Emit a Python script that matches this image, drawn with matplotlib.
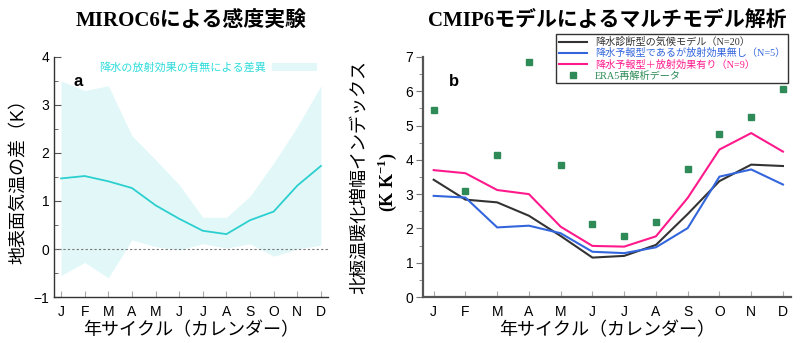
import numpy as np
import matplotlib
matplotlib.use("Agg")
import matplotlib.pyplot as plt
from matplotlib.ticker import MultipleLocator

plt.rcParams['font.family'] = ['Liberation Sans', 'Noto Sans CJK JP', 'DejaVu Sans']

months = ["J", "F", "M", "A", "M", "J", "J", "A", "S", "O", "N", "D"]

# panel a: MIROC6 sensitivity experiment
diff_mean = [1.47, 1.52, 1.41, 1.27, 0.91, 0.63, 0.38, 0.31, 0.60, 0.78, 1.32, 1.73]
diff_upper = [3.50, 3.30, 3.40, 2.36, 1.86, 1.34, 0.66, 0.66, 1.10, 1.79, 2.55, 3.40]
diff_lower = [-0.55, -0.28, -0.60, 0.19, 0.05, -0.02, 0.11, 0.02, 0.11, -0.15, 0.00, 0.08]

# panel b: CMIP6 multi-model
diag = [3.42, 2.84, 2.76, 2.37, 1.78, 1.15, 1.20, 1.52, 2.42, 3.38, 3.86, 3.82]
prog_norad = [2.95, 2.90, 2.03, 2.08, 1.86, 1.32, 1.28, 1.45, 2.01, 3.51, 3.72, 3.28]
prog_rad = [3.70, 3.61, 3.12, 3.00, 2.05, 1.49, 1.47, 1.77, 2.89, 4.30, 4.78, 4.24]
era5 = [5.44, 3.08, 4.15, 6.85, 3.84, 2.13, 1.77, 2.20, 3.74, 4.75, 5.25, 6.06]

x = np.arange(len(months))
serif_cjk = ['Liberation Serif', 'Noto Sans CJK JP']

fig = plt.figure(figsize=(8, 3.43), dpi=100)
ax1 = fig.add_axes([0.0675, 0.134, 0.3425, 0.700])
ax2 = fig.add_axes([0.529, 0.134, 0.460, 0.700])

# ---- panel a
ax1.fill_between(x, diff_lower, diff_upper, color='#e2f8f8', lw=0,
                 label='降水の放射効果の有無による差異')
ax1.plot(x, diff_mean, color='#2ccfcf', lw=1.3)
ax1.axhline(0, color='#777777', lw=0.8, ls=(0, (2, 2)))
ax1.set_xlim(-0.3, 11.3)
ax1.set_ylim(-1, 4)
ax1.yaxis.set_major_locator(MultipleLocator(1))
ax1.yaxis.set_minor_locator(MultipleLocator(0.5))
ax1.tick_params(axis='y', which='both', direction='in', labelsize=10, color='#555555')
ax1.tick_params(axis='y', which='major', length=5)
ax1.tick_params(axis='y', which='minor', length=3)
ax1.tick_params(axis='x', direction='in', length=4, labelsize=10, color='#aaaaaa', pad=6)
ax1.set_xticks(x, months)
ax1.set_yticks([-1, 0, 1, 2, 3, 4], ['\u22121', '0', '1', '2', '3', '4'])
for s in ['top', 'right']:
    ax1.spines[s].set_visible(False)
for s in ['left', 'bottom']:
    ax1.spines[s].set_color('#333333')
    ax1.spines[s].set_linewidth(1.0)
ax1.text(0.07, 0.93, 'a', transform=ax1.transAxes, fontsize=12, fontweight='bold', va='top')
leg1 = ax1.legend(loc='upper right', bbox_to_anchor=(0.995, 1.02), frameon=False,
                  markerfirst=False, handlelength=4.0, handleheight=0.8,
                  fontsize=8, handletextpad=0.6)
for t in leg1.get_texts():
    t.set_color('#30dcdc')
ax1.set_ylabel('地表面気温の差（K）', fontsize=13, labelpad=4)
ax1.set_xlabel('年サイクル（カレンダー）', fontsize=13, labelpad=2)
ax1.set_title('MIROC6による感度実験', fontsize=15, fontweight='bold',
              family=serif_cjk, pad=22)

# ---- panel b
ax2.plot(x, diag, color='#333333', lw=1.5, label='降水診断型の気候モデル（N=20）')
ax2.plot(x, prog_norad, color='#3366dd', lw=1.5, label='降水予報型であるが放射効果無し（N=5）')
ax2.plot(x, prog_rad, color='#ff1a8c', lw=1.5, label='降水予報型＋放射効果有り（N=9）')
ax2.plot(x, era5, ls='none', marker='s', ms=5, color='#2e8b57', label='ERA5再解析データ')
ax2.set_xlim(-0.33, 11.26)
ax2.set_ylim(0, 7)
ax2.yaxis.set_major_locator(MultipleLocator(1))
ax2.yaxis.set_minor_locator(MultipleLocator(0.5))
ax2.tick_params(axis='y', which='both', direction='out', labelsize=10, color='#777777', pad=2)
ax2.tick_params(axis='y', which='major', length=5)
ax2.tick_params(axis='y', which='minor', length=3)
ax2.tick_params(axis='x', direction='in', length=4, labelsize=10, color='#aaaaaa', pad=6)
ax2.set_xticks(x, months)
for s in ['top', 'right']:
    ax2.spines[s].set_visible(False)
for s in ['left', 'bottom']:
    ax2.spines[s].set_color('#555555')
    ax2.spines[s].set_linewidth(1.6)
ax2.text(0.07, 0.93, 'b', transform=ax2.transAxes, fontsize=12, fontweight='bold', va='top')
leg2 = ax2.legend(loc='upper right', bbox_to_anchor=(1.005, 1.115), frameon=True,
                  fancybox=False, edgecolor='black', handlelength=2.8,
                  labelspacing=0.1, borderpad=0.25, handletextpad=0.8,
                  prop={'family': serif_cjk, 'size': 7.3})
leg2.get_frame().set_linewidth(1.0)
for t, c in zip(leg2.get_texts(), ['#333333', '#3366dd', '#ff1a8c', '#2e8b57']):
    t.set_color(c)
ax2.set_ylabel('北極温暖化増幅インデックス', fontsize=13, labelpad=27)
fig.text(0.484, 0.47, '(K K$^{\\mathregular{-1}}$)', rotation=90, fontsize=13,
         fontweight='bold', family='Liberation Serif', ha='center', va='center')
ax2.set_xlabel('年サイクル（カレンダー）', fontsize=13, labelpad=2)
ax2.set_title('CMIP6モデルによるマルチモデル解析', fontsize=15, fontweight='bold',
              family=serif_cjk, pad=22)

fig.savefig('out.png', dpi=100)
